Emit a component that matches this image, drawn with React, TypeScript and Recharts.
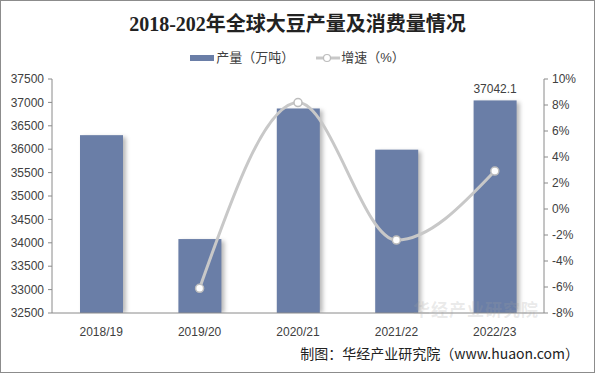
import React from 'react';
import { ComposedChart, Bar, Line, XAxis, YAxis, LabelList } from 'recharts';

const categories = ['2018/19', '2019/20', '2020/21', '2021/22', '2022/23'];
const production = [36300, 34080, 36870, 35990, 37042.1];
const growth: (number | null)[] = [null, -6.1, 8.19, -2.39, 2.92];
const leftTicks = [32500, 33000, 33500, 34000, 34500, 35000, 35500, 36000, 36500, 37000, 37500];
const rightTicks = [-8, -6, -4, -2, 0, 2, 4, 6, 8, 10];
const boundaryTicks = [0, 1, 2, 3, 4, 5];

const data = categories.map((c, i) => ({
  name: c,
  prod: production[i],
  growth: growth[i],
  labelText: i === categories.length - 1 ? String(production[i]) : '',
}));

const BAR_COLOR = '#6A7EA7';
const AXIS_COLOR = '#8A8A8A';
const TEXT_COLOR = '#404040';
const FONT = '"Liberation Sans", Arial, "Noto Sans CJK SC", sans-serif';

const ShadowBar = (props: any) => {
  const { x, y, width, height } = props;
  if (width == null || height == null || height <= 0) return null;
  return (
    <g>
      <defs>
        <filter id="barShadow" x="-30%" y="-10%" width="160%" height="120%">
          <feGaussianBlur stdDeviation="2" />
        </filter>
      </defs>
      <rect x={x + 3} y={y + 2} width={width} height={height - 2} fill="rgba(0,0,0,0.28)" filter="url(#barShadow)" />
      <rect x={x} y={y} width={width} height={height} fill={BAR_COLOR} />
    </g>
  );
};

const Dot = (props: any) => {
  const { cx, cy, value } = props;
  if (cx == null || cy == null || value == null) return null;
  return <circle cx={cx} cy={cy} r={4} fill="#fff" stroke="#BDBDBD" strokeWidth={1.5} />;
};

export default function App() {
  return (
    <div
      style={{
        position: 'absolute',
        left: 0,
        top: 0,
        width: 595,
        height: 373,
        background: '#fff',
        boxSizing: 'border-box',
        border: '1px solid #8C8C8C',
        fontFamily: FONT,
      }}
    >
      <div
        style={{
          position: 'absolute',
          left: 0,
          top: 10,
          width: 593,
          textAlign: 'center',
          fontFamily: '"Liberation Serif", "Noto Sans CJK SC", serif',
          fontWeight: 'bold',
          fontSize: 20,
          color: '#222',
          lineHeight: '26px',
        }}
      >
        2018-202年全球大豆产量及消费量情况
      </div>
      <div
        style={{
          position: 'absolute',
          left: 0,
          top: 48,
          width: 593,
          display: 'flex',
          justifyContent: 'center',
          alignItems: 'center',
          fontSize: 13,
          color: TEXT_COLOR,
          lineHeight: '18px',
        }}
      >
        <span style={{ display: 'inline-block', width: 24, height: 6, background: BAR_COLOR, marginRight: 2 }} />
        <span>产量（万吨）</span>
        <span style={{ display: 'inline-block', width: 22 }} />
        <svg width={24} height={10} style={{ marginRight: 1 }}>
          <line x1={0} y1={5} x2={24} y2={5} stroke="#C8C8C8" strokeWidth={3} />
          <circle cx={11} cy={5} r={3.5} fill="#fff" stroke="#BDBDBD" strokeWidth={1.2} />
        </svg>
        <span>增速（%）</span>
      </div>
      <div style={{ position: 'absolute', left: 0, top: 0 }}>
        <ComposedChart
          width={593}
          height={371}
          data={data}
          margin={{ top: 78, right: 0, bottom: 33, left: 0 }}
        >
          <XAxis
            xAxisId="b"
            type="number"
            domain={[0, 5]}
            ticks={boundaryTicks}
            tickFormatter={() => ''}
            axisLine={false}
            tickLine={{ stroke: AXIS_COLOR }}
            tickSize={5}
            height={0}
          />
          <XAxis
            dataKey="name"
            xAxisId="c"
            axisLine={{ stroke: AXIS_COLOR }}
            tickLine={false}
            tick={{ fill: TEXT_COLOR, fontSize: 12, fontFamily: FONT }}
            tickMargin={8}
            height={26}
          />
          <YAxis
            yAxisId="l"
            domain={[32500, 37500]}
            ticks={leftTicks}
            allowDataOverflow
            width={51}
            axisLine={{ stroke: AXIS_COLOR }}
            tickLine={{ stroke: AXIS_COLOR }}
            tickSize={4}
            tickMargin={4}
            tick={{ fill: TEXT_COLOR, fontSize: 12, fontFamily: FONT }}
          />
          <YAxis
            yAxisId="r"
            orientation="right"
            domain={[-8, 10]}
            ticks={rightTicks}
            width={50}
            axisLine={{ stroke: AXIS_COLOR }}
            tickLine={{ stroke: AXIS_COLOR }}
            tickSize={4}
            tickMargin={4}
            tickFormatter={(v: number) => `${v}%`}
            tick={{ fill: TEXT_COLOR, fontSize: 12, fontFamily: FONT }}
          />
          <Bar
            dataKey="prod"
            xAxisId="c"
            yAxisId="l"
            fill={BAR_COLOR}
            barSize={43}
            shape={<ShadowBar />}
            isAnimationActive={false}
          >
            <LabelList dataKey="labelText" position="top" offset={7} fill={TEXT_COLOR} fontSize={12} fontFamily={FONT} />
          </Bar>
          <Line
            dataKey="growth"
            xAxisId="c"
            yAxisId="r"
            type="monotone"
            stroke="#C8C8C8"
            strokeWidth={3}
            dot={<Dot />}
            activeDot={false}
            connectNulls
            isAnimationActive={false}
          />
        </ComposedChart>
      </div>
      <div
        style={{
          position: 'absolute',
          left: 412,
          top: 298,
          fontSize: 17,
          fontWeight: 'bold',
          color: 'rgba(160,160,160,0.22)',
          fontFamily: '"Noto Sans CJK SC", sans-serif',
          letterSpacing: 1,
          lineHeight: '20px',
          pointerEvents: 'none',
        }}
      >
        华经产业研究院
      </div>
      <div
        style={{
          position: 'absolute',
          right: 15,
          top: 342,
          fontSize: 14,
          color: '#222',
          fontFamily: '"Noto Sans CJK SC", sans-serif',
          lineHeight: '20px',
          whiteSpace: 'nowrap',
        }}
      >
        制图：华经产业研究院（www.huaon.com）
      </div>
    </div>
  );
}
